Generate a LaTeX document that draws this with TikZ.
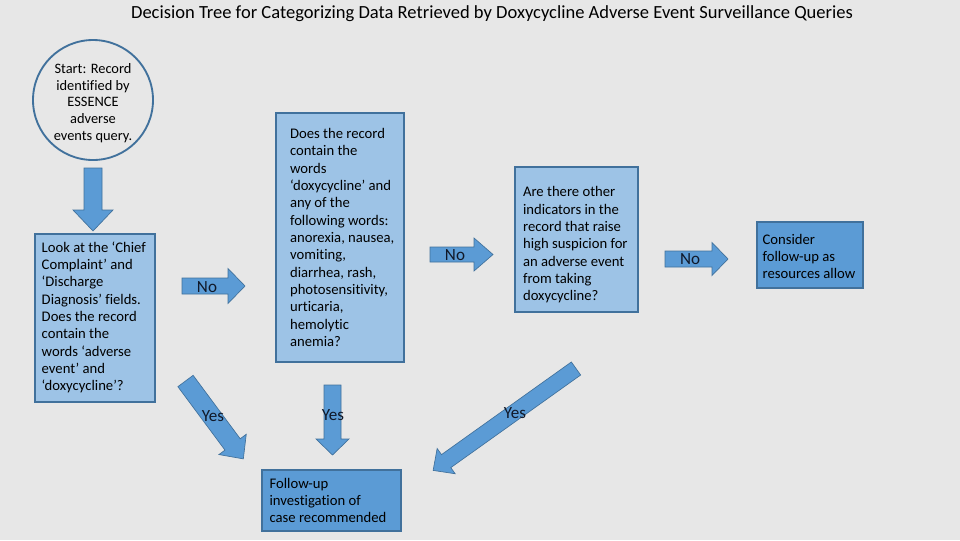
\documentclass[tikz,border=0pt]{standalone}
\usepackage{fontspec}
\setmainfont{Carlito}[Ligatures=NoCommon]
\definecolor{bg}{HTML}{E7E7E7}
\definecolor{lightblue}{HTML}{9DC3E6}
\definecolor{midblue}{HTML}{5B9BD5}
\definecolor{edgeblue}{HTML}{41719C}
\definecolor{labelink}{HTML}{101828}
\tikzset{
  boxtext/.style={font=\fontsize{11}{13}\selectfont, align=left, inner sep=0pt, anchor=west},
  lbox/.style={draw=edgeblue, line width=1.3pt, fill=lightblue, rectangle, inner sep=0pt},
  dbox/.style={draw=edgeblue, line width=1pt, fill=midblue, rectangle, inner sep=0pt},
  startcircle/.style={circle, draw=edgeblue, line width=1.4pt, inner sep=0pt},
  circletext/.style={font=\fontsize{10.8}{12.5}\selectfont, align=center, inner sep=0pt},
  arrowshape/.style={fill=midblue, draw=edgeblue, line width=0.5pt, line join=miter},
  arrowlabel/.style={font=\fontsize{12.8}{14}\selectfont, text=labelink, inner sep=0pt},
}
% #1 start coordinate, #2 angle, #3 length, #4 shaft half width, #5 head half width, #6 head length
\newcommand\blockarrow[6]{%
  \draw[arrowshape, shift={(#1)}, rotate=#2]
    (0,-#4) -- ({#3-#6},-#4) -- ({#3-#6},-#5) -- (#3,0) -- ({#3-#6},#5) -- ({#3-#6},#4) -- (0,#4) -- cycle;}
\begin{document}
\begin{tikzpicture}[x=0.75pt, y=-0.75pt]
  \useasboundingbox (0,0) rectangle (960,540);
  \fill[bg] (0,0) rectangle (960,540);

  \node[font=\fontsize{13.9}{16}\selectfont, inner sep=0pt] (title) at (492,14)
    {Decision Tree for Categorizing Data Retrieved by Doxycycline Adverse Event Surveillance Queries};

  \node[startcircle, minimum size=90pt] (start) at (93,100) {};
  \node[circletext] (starttext) at ([yshift=-2.2pt]start.center)
    {Start: Record\\identified by\\ESSENCE\\adverse\\events query.};

  % boxes
  \node[lbox, minimum width=90pt, minimum height=126pt] (q1) at (95,318) {};
  \node[lbox, minimum width=96pt, minimum height=186.75pt] (q2) at (340,237.5) {};
  \node[lbox, minimum width=92.25pt, minimum height=108.75pt] (q3) at (576.5,239.5) {};
  \node[dbox, minimum width=79.5pt, minimum height=49.5pt] (consider) at (810,255) {};
  \node[dbox, minimum width=104.25pt, minimum height=45.75pt] (followup) at (331.5,500.5) {};

  % box texts
  \node[boxtext] (q1text) at ([xshift=5.5pt,yshift=0.5pt]q1.west)
    {Look at the ‘Chief\\Complaint’ and\\‘Discharge\\Diagnosis’ fields.\\Does the record\\contain the\\words ‘adverse\\event’ and\\‘doxycycline’?};
  \node[boxtext] (q2text) at ([xshift=11pt]q2.west)
    {Does the record\\contain the\\words\\‘doxycycline’ and\\any of the\\following words:\\anorexia, nausea,\\vomiting,\\diarrhea, rash,\\photosensitivity,\\urticaria,\\hemolytic\\anemia?};
  \node[boxtext] (q3text) at ([xshift=6.5pt,yshift=-4pt]q3.west)
    {Are there other\\indicators in the\\record that raise\\high suspicion for\\an adverse event\\from taking\\doxycycline?};
  \node[boxtext] (considertext) at ([xshift=4.5pt,yshift=-1pt]consider.west)
    {Consider\\follow-up as\\resources allow};
  \node[boxtext] (followuptext) at ([xshift=6pt]followup.west)
    {Follow-up\\investigation of\\case recommended};

  % arrow anchor coordinates
  \coordinate (a0) at (93,168);
  \coordinate (a1) at (182,286);
  \coordinate (a2) at (430,254.5);
  \coordinate (a3) at (665,259);
  \coordinate (y1) at (185.5,381);
  \coordinate (y2) at (332.5,385);
  \coordinate (y3) at (576,368.5);

  \blockarrow{a0}{-90}{63}{9}{20}{21}
  \blockarrow{a1}{0}{63}{8}{17.5}{17}
  \blockarrow{a2}{0}{63}{7.5}{16.5}{19}
  \blockarrow{a3}{0}{63}{8}{16.5}{16}
  \blockarrow{y1}{-53.4}{97}{9.5}{17}{18}
  \blockarrow{y2}{-90}{70}{8.5}{16.5}{16}
  \blockarrow{y3}{-144.5}{175.5}{8}{15.5}{16}

  \node[arrowlabel] (no1) at (207,287) {No};
  \node[arrowlabel] (no2) at (455,255) {No};
  \node[arrowlabel] (no3) at (690,259) {No};
  \node[arrowlabel] (yes1) at (213,416) {Yes};
  \node[arrowlabel] (yes2) at (333,415) {Yes};
  \node[arrowlabel] (yes3) at (515,413) {Yes};
\end{tikzpicture}
\end{document}
